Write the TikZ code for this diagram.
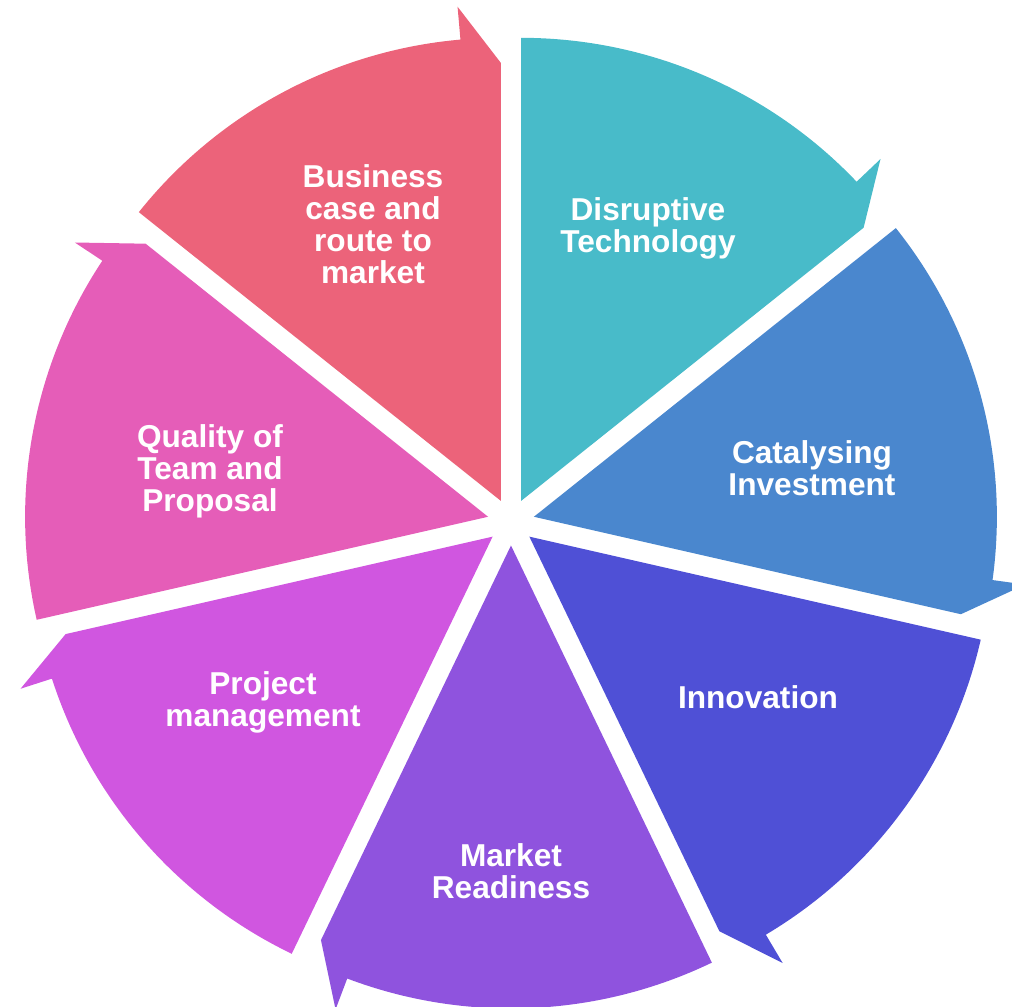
\documentclass[tikz,border=0pt]{standalone}
\usepackage{fontspec}
\setmainfont{Liberation Sans}

\definecolor{segred}{RGB}{236,99,122}
\definecolor{segcyan}{RGB}{72,187,201}
\definecolor{segblue}{RGB}{74,135,206}
\definecolor{segindigo}{RGB}{79,80,214}
\definecolor{segpurple}{RGB}{143,83,222}
\definecolor{segviolet}{RGB}{208,86,224}
\definecolor{segmagenta}{RGB}{229,93,184}

% one arrow segment of the cycle: colour, start angle, end angle
\newcommand{\cycleseg}[3]{%
  \pgfmathsetmacro{\segmid}{(#2+#3)/2}
  \fill[#1, shift={(\segmid:0.235)}] (0,0) -- (#2:4.63)
    arc[start angle=#2, end angle=#3+5, radius=4.63]
    -- (#3+5:4.96) -- (#3:4.38) -- cycle;
}

\begin{document}
\begin{tikzpicture}[seglabel/.style={text=white, align=center, font=\fontsize{9}{9.1}\selectfont\bfseries}]
\useasboundingbox (-5.11,5.22) rectangle (5.01,-4.85);

\cycleseg{segcyan}{90}{38.5714}
\cycleseg{segblue}{38.5714}{-12.8571}
\cycleseg{segindigo}{-12.8571}{-64.2857}
\cycleseg{segpurple}{-64.2857}{-115.7143}
\cycleseg{segviolet}{-115.7143}{-167.1429}
\cycleseg{segmagenta}{-167.1429}{-218.5714}
\cycleseg{segred}{141.4286}{90}

\node[seglabel] (business) at (-1.38,2.98) {Business\\case and\\route to\\market};
\node[seglabel] (disruptive) at (1.37,2.94) {Disruptive\\Technology};
\node[seglabel] (catalysing) at (3.01,0.54) {Catalysing\\Investment};
\node[seglabel] (innovation) at (2.47,-1.75) {Innovation};
\node[seglabel] (market) at (0,-3.49) {Market\\Readiness};
\node[seglabel] (project) at (-2.48,-1.80) {Project\\management};
\node[seglabel] (quality) at (-3.01,0.51) {Quality of\\Team and\\Proposal};
\end{tikzpicture}
\end{document}
